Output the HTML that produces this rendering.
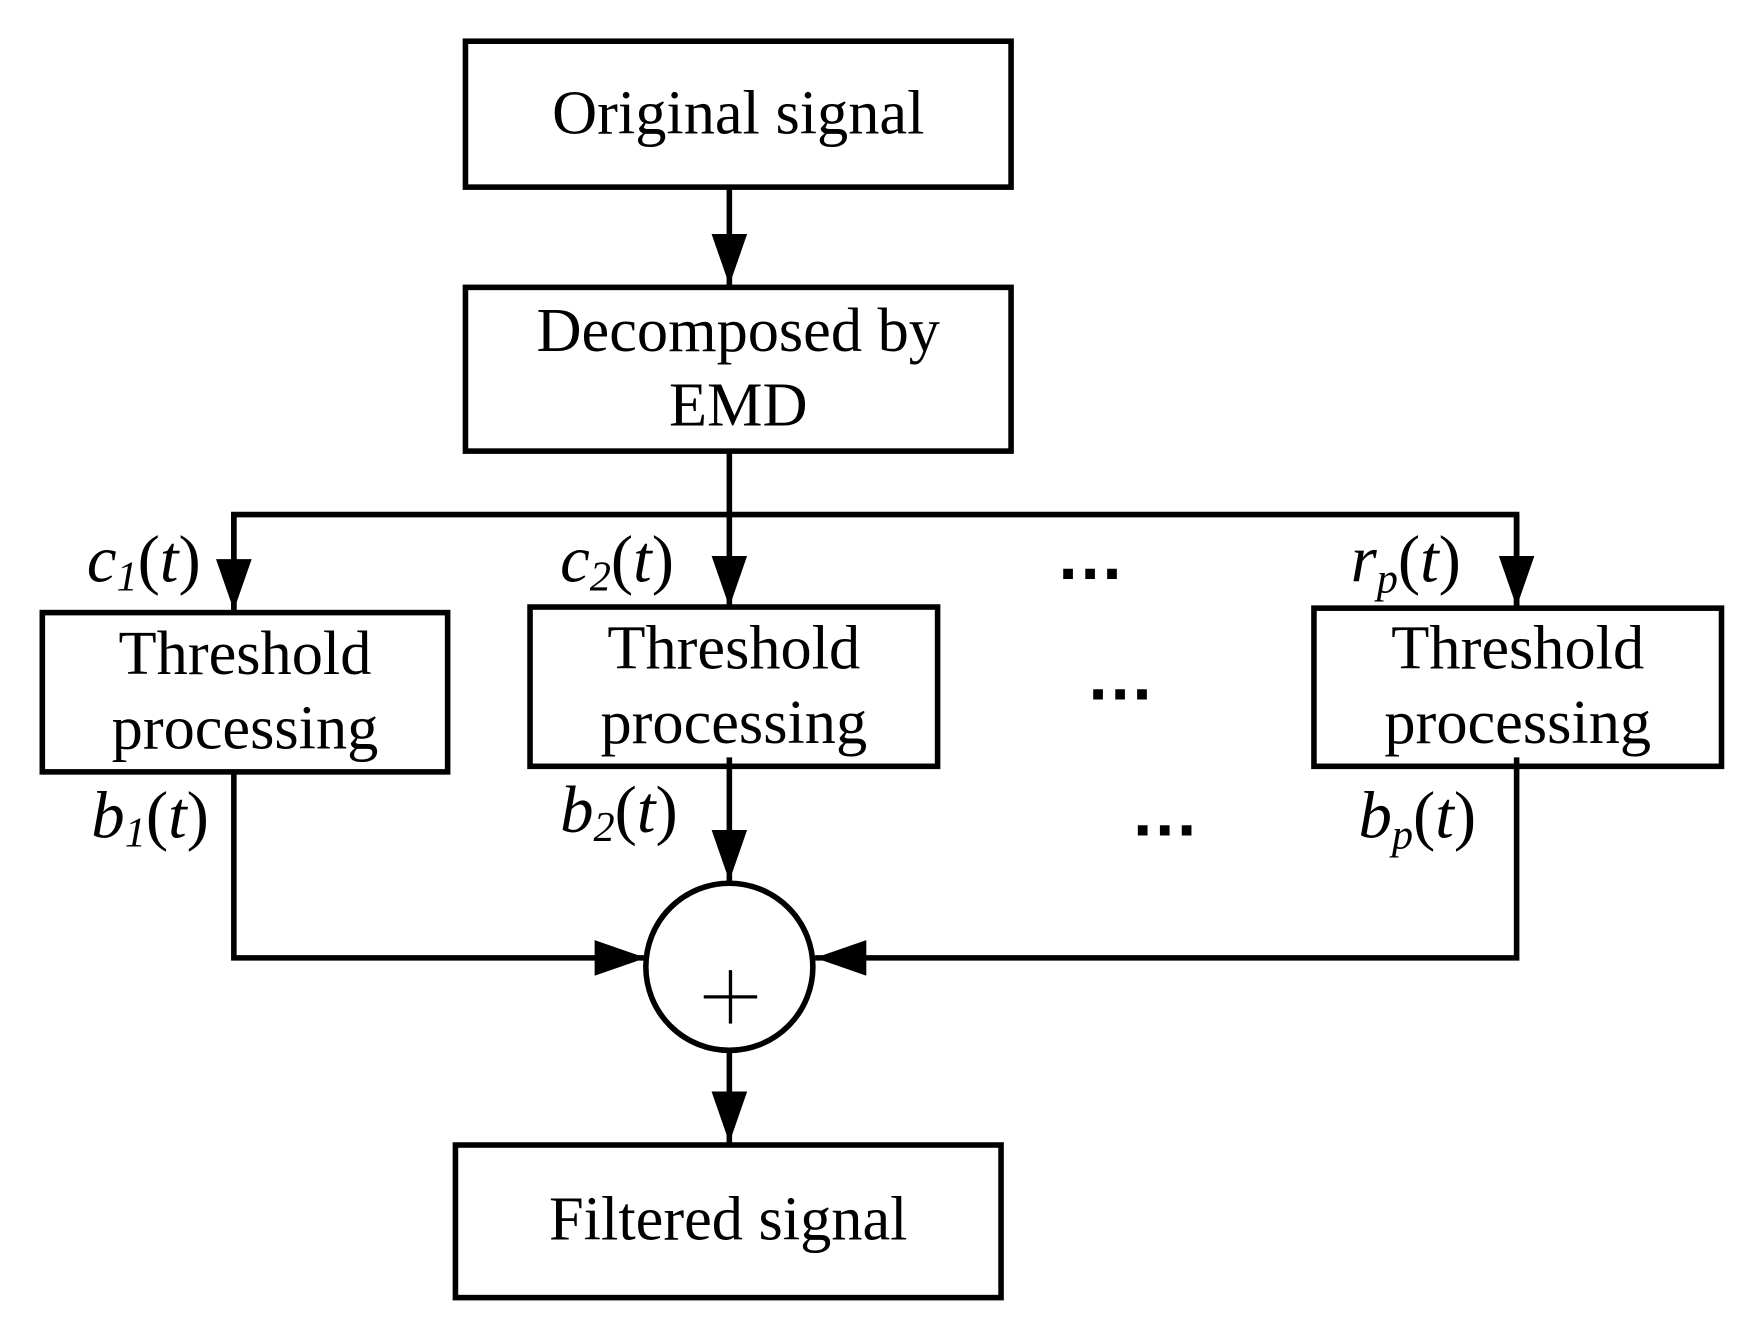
<!DOCTYPE html>
<html><head><meta charset="utf-8"><style>html,body{margin:0;padding:0;background:#fff}svg{display:block}</style></head>
<body>
<svg width="1746" height="1321" viewBox="0 0 1568 1186" preserveAspectRatio="none" xmlns="http://www.w3.org/2000/svg">
<defs>
<marker id="h" viewBox="0 0 10 10" refX="10" refY="5" markerWidth="46" markerHeight="32" orient="auto" markerUnits="userSpaceOnUse" preserveAspectRatio="none"><path d="M0,0 L10,5 L0,10 z" fill="#000"/></marker></defs>
<g fill="none" stroke="#000" stroke-width="5">
<rect x="418" y="37" width="490" height="131"/>
<rect x="418" y="258" width="490" height="147"/>
<rect x="38" y="550" width="364" height="143"/>
<rect x="476" y="545" width="366" height="143"/>
<rect x="1180" y="546" width="366" height="142"/>
<rect x="409" y="1028" width="490" height="137"/>
<circle cx="655" cy="868" r="75"/>
<line x1="655" y1="168" x2="655" y2="256" marker-end="url(#h)"/>
<polyline points="655,405 655,462"/>
<polyline points="210,548 210,462 1362,462 1362,545"/>
<line x1="210" y1="462" x2="210" y2="548" marker-end="url(#h)"/>
<line x1="655" y1="462" x2="655" y2="545" marker-end="url(#h)"/>
<line x1="1362" y1="462" x2="1362" y2="545" marker-end="url(#h)"/>
<polyline points="210,693 210,860 580,860" marker-end="url(#h)"/>
<line x1="655" y1="680" x2="655" y2="791" marker-end="url(#h)"/>
<polyline points="1362,680 1362,860 732,860" marker-end="url(#h)"/>
<line x1="655" y1="943" x2="655" y2="1026" marker-end="url(#h)"/>
<line x1="632" y1="895" x2="680" y2="895" stroke-width="3"/>
<line x1="656" y1="871" x2="656" y2="919" stroke-width="3"/>
</g>
<g font-family="'Liberation Serif',serif" font-size="56" text-anchor="middle" fill="#000">
<text x="663" y="120">Original signal</text>
<text x="663" y="315">Decomposed by</text>
<text x="663" y="382">EMD</text>
<text x="220" y="605">Threshold</text>
<text x="220" y="672">processing</text>
<text x="659" y="600">Threshold</text>
<text x="659" y="667">processing</text>
<text x="1363" y="600">Threshold</text>
<text x="1363" y="667">processing</text>
<text x="654" y="1113">Filtered signal</text>
</g>
<g font-family="'Liberation Serif',serif" font-size="60" font-style="italic" fill="#000">
<text x="78" y="522">c<tspan font-size="38" dy="8">1</tspan><tspan font-style="normal" dy="-8">(</tspan>t<tspan font-style="normal">)</tspan></text>
<text x="503" y="522">c<tspan font-size="38" dy="8">2</tspan><tspan font-style="normal" dy="-8">(</tspan>t<tspan font-style="normal">)</tspan></text>
<text x="1213" y="522">r<tspan font-size="38" dy="10">p</tspan><tspan font-style="normal" dy="-10">(</tspan>t<tspan font-style="normal">)</tspan></text>
<text x="82" y="752">b<tspan font-size="38" dy="8">1</tspan><tspan font-style="normal" dy="-8">(</tspan>t<tspan font-style="normal">)</tspan></text>
<text x="503" y="747">b<tspan font-size="38" dy="8">2</tspan><tspan font-style="normal" dy="-8">(</tspan>t<tspan font-style="normal">)</tspan></text>
<text x="1220" y="752">b<tspan font-size="38" dy="10">p</tspan><tspan font-style="normal" dy="-10">(</tspan>t<tspan font-style="normal">)</tspan></text>
</g>
<g font-family="'Liberation Sans',sans-serif" font-size="62" font-weight="bold" fill="#000">
<text x="948" y="520">…</text>
<text x="975" y="628">…</text>
<text x="1015" y="750">…</text>
</g>
</svg>
</body></html>
